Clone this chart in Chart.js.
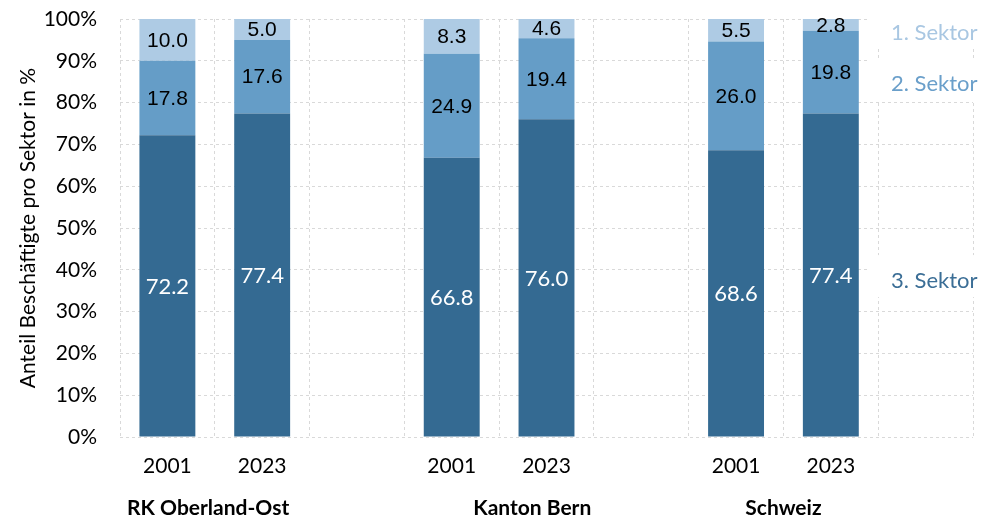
<!DOCTYPE html>
<html>
<head>
<meta charset="utf-8">
<script src="https://cdn.jsdelivr.net/npm/chart.js@4.4.1/dist/chart.umd.min.js"></script>
<style>
  html, body { margin: 0; padding: 0; background: #fff; }
  #wrap { width: 982px; height: 521px; }
</style>
</head>
<body>
<div id="wrap"><canvas id="myChart"></canvas></div>
<script>
// categories (empty slots make the gaps between the groups)
const years = ['2001', '2023', '', '2001', '2023', '', '2001', '2023', ''];
const groups = ['RK Oberland-Ost', 'Kanton Bern', 'Schweiz'];
const groupPos = [0.43, 3.85, 6.5]; // in category units

const sektor3 = [72.2, 77.4, null, 66.8, 76.0, null, 68.6, 77.4, null];
const sektor2 = [17.8, 17.6, null, 24.9, 19.4, null, 26.0, 19.8, null];
const sektor1 = [10.0, 5.0, null, 8.3, 4.6, null, 5.5, 2.8, null];

const seriesNames = ['3. Sektor', '2. Sektor', '1. Sektor'];
const legendAt = [37.3, 84.4, 96.7]; // y value where each name sits

const colDark = '#346a92';
const colMid = '#659dc7';
const colLight = '#aecbe4';

// value labels inside the bar segments
const valueLabels = {
  id: 'valueLabels',
  afterDatasetsDraw(chart) {
    const ctx = chart.ctx;
    ctx.save();
    ctx.textAlign = 'center';
    ctx.textBaseline = 'middle';
    chart.data.datasets.forEach((ds, i) => {
      const meta = chart.getDatasetMeta(i);
      meta.data.forEach((bar, j) => {
        const v = ds.data[j];
        if (v == null) return;
        const p = bar.getCenterPoint();
        if (i === 0) {
          ctx.fillStyle = '#ffffff';
          ctx.font = '22px Lato';
        } else {
          ctx.fillStyle = '#000000';
          ctx.font = '21px "Liberation Sans"';
        }
        ctx.fillText(v.toFixed(1), p.x, p.y + 1);
      });
    });
    ctx.restore();
  }
};

// series names at the right and group names under the years
const sideTexts = {
  id: 'sideTexts',
  afterDraw(chart) {
    const ctx = chart.ctx;
    const x = chart.scales.x;
    const y = chart.scales.y;
    const area = chart.chartArea;
    ctx.save();
    ctx.textBaseline = 'middle';
    ctx.textAlign = 'left';
    ctx.font = '22px Lato';
    const tx = area.right - 82;
    chart.data.datasets.forEach((ds, i) => {
      const py = y.getPixelForValue(legendAt[i]);
      ctx.fillStyle = '#ffffff';
      ctx.fillRect(tx - 21, py - 26, chart.width - tx + 21, 42);
      ctx.fillStyle = ds.labelColor;
      ctx.fillText(seriesNames[i], tx, py);
    });

    ctx.textAlign = 'center';
    ctx.font = 'bold 21px Lato';
    ctx.fillStyle = '#000000';
    const step = x.getPixelForValue(1) - x.getPixelForValue(0);
    groups.forEach((g, i) => {
      const px = x.getPixelForValue(0) + groupPos[i] * step;
      ctx.fillText(g, px, chart.height - 13);
    });
    ctx.restore();
  }
};

var ctx = document.getElementById('myChart').getContext('2d');
var chart = new Chart(ctx, {
  type: 'bar',
  data: {
    labels: years,
    datasets: [
      { label: seriesNames[0], data: sektor3, backgroundColor: colDark, labelColor: '#3b6e96' },
      { label: seriesNames[1], data: sektor2, backgroundColor: colMid, labelColor: '#6a9fca' },
      { label: seriesNames[2], data: sektor1, backgroundColor: colLight, labelColor: '#a9c7e2' }
    ]
  },
  options: {
    responsive: true,
    maintainAspectRatio: false,
    animation: false,
    layout: { padding: { top: 19, right: 9, left: 0, bottom: 0 } },
    datasets: {
      bar: {
        categoryPercentage: 1,
        barPercentage: 0.59,
        borderWidth: 0
      }
    },
    plugins: {
      legend: { display: false },
      tooltip: { enabled: false }
    },
    scales: {
      x: {
        stacked: true,
        afterFit(s) { s.height = 84; },
        grid: { color: '#d9d9d9', offset: true, drawTicks: false },
        border: { display: false, dash: [3, 3] },
        ticks: { color: '#000', padding: 17, font: { family: 'Lato', size: 21 } }
      },
      y: {
        stacked: true,
        min: 0,
        max: 100,
        afterFit(s) {
          s.width = 120;
          s.paddingTop = 0;
          s.paddingBottom = 0;
        },
        grid: { color: '#d9d9d9', drawTicks: false },
        border: { display: false, dash: [3, 3] },
        ticks: {
          stepSize: 10,
          color: '#000',
          padding: 23,
          font: { family: 'Lato', size: 21 },
          callback: (v) => v + '%'
        },
        title: {
          display: true,
          text: 'Anteil Beschäftigte pro Sektor in %',
          color: '#000',
          padding: { top: 16, bottom: 0 },
          font: { family: 'Lato', size: 21 }
        }
      }
    }
  },
  plugins: [valueLabels, sideTexts]
});
</script>
</body>
</html>
